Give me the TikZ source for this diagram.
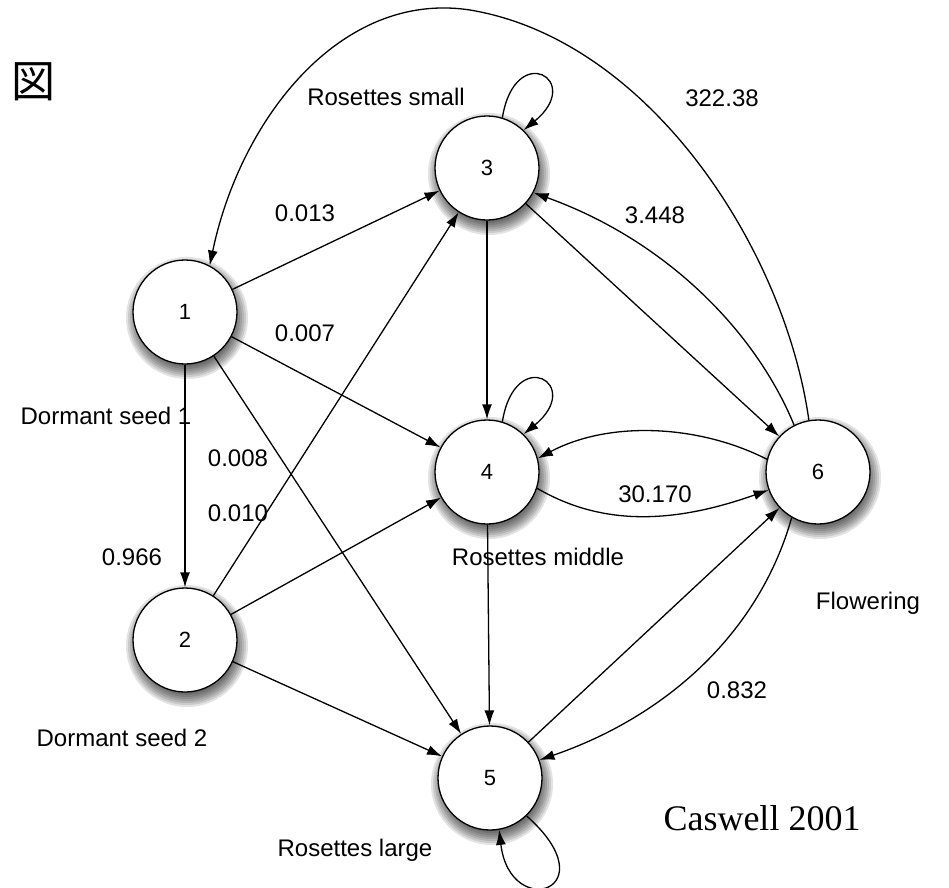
\documentclass[tikz,border=0pt]{standalone}
\usepackage{fontspec}
\setmainfont{Liberation Sans}
\newfontfamily\cjkfont{Noto Sans CJK JP}
\newfontfamily\seriffont{Liberation Serif}
\usetikzlibrary{arrows.meta}
\tikzset{
  state/.style={circle, draw, line width=1.3pt, fill=white, minimum size=104pt, inner sep=0pt,
    font=\fontsize{22}{24}\selectfont},
  lbl/.style={font=\fontsize{24}{26}\selectfont, inner sep=0pt},
  edge/.style={line width=1.3pt, -{Latex[length=15pt,width=10pt]}},
  shadowlayer/.style={fill=black, opacity=0.11},
}
\begin{document}
\begin{tikzpicture}[x=1pt,y=-1pt]
\path[use as bounding box] (0,0) rectangle (949,887);
\coordinate (c1) at (185,312);
\coordinate (c2) at (185,640);
\coordinate (c3) at (487,168);
\coordinate (c4) at (487,472);
\coordinate (c5) at (490,778);
\coordinate (c6) at (818,472);
% soft shadows
\foreach \c in {c1,c2,c3,c4,c5,c6}{
  \foreach \r in {47,49,...,61}{
    \fill[shadowlayer] ([shift={(2,6)}]\c) circle[radius=\r];
  }
}
% nodes
\node[state] (n1) at (c1) {1};
\node[state] (n2) at (c2) {2};
\node[state] (n3) at (c3) {3};
\node[state] (n4) at (c4) {4};
\node[state] (n5) at (c5) {5};
\node[state] (n6) at (c6) {6};
% straight edges
\draw[edge] (n1) -- (n3);
\draw[edge] (n1) -- (n4);
\draw[edge] (n1) -- (n5);
\draw[edge] (n1) -- (n2);
\draw[edge] (n2) -- (n3);
\draw[edge] (n2) -- (n4);
\draw[edge] (n2) -- (n5);
\draw[edge] (n3) -- (n4);
\draw[edge] (n4) -- (n5);
\draw[edge] (n3) -- (n6);
\draw[edge] (n5) -- (n6);
% curved edges
\draw[edge] (n6.117) .. controls (755,330) and (665,240) .. (n3.-28);
\draw[edge] (n4.-18) .. controls (600,525) and (670,525) .. (n6.200);
\draw[edge] (n6.166) .. controls (700,425) and (610,420) .. (n4.15);
\draw[edge] (n6.-120) .. controls (760,630) and (670,715) .. (n5.20);
\coordinate (top) at (470,10);
\draw[edge] (n6.100) .. controls (785,250) and (650,40) .. (top)
   .. controls (340,-10) and (240,120) .. (n1.62);
% self loops
\draw[edge] (n3.73) .. controls (515,40) and (585,80) .. (n3.46);
\draw[edge] (n4.73) .. controls (515,344) and (585,384) .. (n4.46);
\draw[edge] (n5.-46) .. controls (610,890) and (510,922) .. (n5.-80);
% labels
\node[lbl] (l013) at (305,213) {0.013};
\node[lbl] (l007) at (305,333) {0.007};
\node[lbl] (ld1) at (106,416) {Dormant seed 1};
\node[lbl] (l008) at (238,458) {0.008};
\node[lbl] (l010) at (238,513) {0.010};
\node[lbl] (l966) at (132,557) {0.966};
\node[lbl] (ld2) at (122,738) {Dormant seed 2};
\node[lbl] (lrs) at (386,97) {Rosettes small};
\node[lbl] (lrm) at (538,557) {Rosettes middle};
\node[lbl] (l3448) at (655,215) {3.448};
\node[lbl] (l32238) at (722,98) {322.38};
\node[lbl] (l30170) at (655,494) {30.170};
\node[lbl] (lfl) at (868,603) {Flowering};
\node[lbl] (l832) at (737,690) {0.832};
\node[lbl] (lrl) at (355,850) {Rosettes large};
\node[inner sep=0pt, font=\seriffont\fontsize{36}{40}\selectfont] (cas) at (762,818) {Caswell 2001};
\node[inner sep=0pt, font=\cjkfont\fontsize{44}{48}\selectfont] (zu) at (33,82) {図};
\end{tikzpicture}
\end{document}
